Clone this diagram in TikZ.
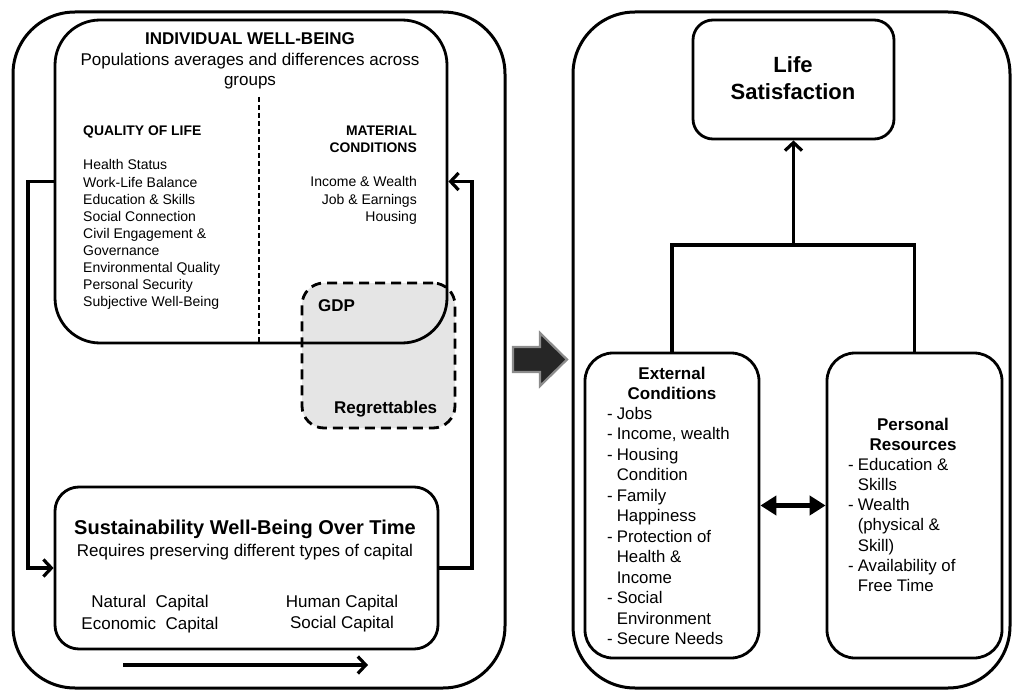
\documentclass[tikz,border=0pt]{standalone}
\usepackage{fontspec}
\setmainfont{Liberation Sans}
\usetikzlibrary{arrows.meta, positioning}

\tikzset{
  panel/.style={draw, line width=3pt, rounded corners=62pt},
  box/.style={draw, line width=2.8pt, inner sep=0pt},
  gdpbox/.style={box, fill=black!10, dash pattern=on 10pt off 6pt, rounded corners=22pt},
  txt/.style={inner sep=0pt, anchor=base},
  flow/.style={-{Straight Barb[length=8pt, width=17pt]}, line width=3.2pt},
  twoway/.style={{Triangle[length=16pt, width=19pt]}-{Triangle[length=16pt, width=19pt]}, line width=4.5pt},
  divider/.style={line width=2.2pt, dash pattern=on 5pt off 3pt},
}

\begin{document}
\begin{tikzpicture}[x=1pt, y=-1pt]
\useasboundingbox (0,0) rectangle (1013,690);

% outer panels
\draw[panel] (13,12) rectangle (505,688);
\draw[panel] (573,12) rectangle (1010,688);

% left panel boxes
\node[gdpbox, minimum width=153pt, minimum height=145pt] (gdp) at (378.5,355.5) {};
\node[box, rounded corners=45pt, minimum width=392pt, minimum height=323pt] (iwb) at (251,181.5) {};
\node[box, rounded corners=24pt, minimum width=383pt, minimum height=162pt] (swb) at (246.5,568) {};

\node[txt, font=\bfseries\fontsize{17}{20}\selectfont] (iwbtitle) at (250,45) {INDIVIDUAL WELL-BEING};
\node[txt, font=\fontsize{17}{19.5}\selectfont] (iwbsub) at (250,66)
  {\begin{tabular}[t]{@{}c@{}}Populations averages and differences across\\groups\end{tabular}};

\coordinate (divtop) at (259,97);
\draw[divider] (divtop) -- (divtop |- iwb.south);

\node[txt, anchor=base west, font=\bfseries\fontsize{13.9}{15}\selectfont] (qoltitle) at (83,136) {QUALITY OF LIFE};
\node[txt, anchor=base west, font=\fontsize{14}{17.1}\selectfont] (qol) at (83,170)
  {\begin{tabular}[t]{@{}l@{}}Health Status\\Work-Life Balance\\Education \& Skills\\Social Connection\\
   Civil Engagement \&\\Governance\\Environmental Quality\\Personal Security\\Subjective Well-Being\end{tabular}};

\node[txt, anchor=base east, font=\bfseries\fontsize{13.9}{17}\selectfont] (mattitle) at (417,136)
  {\begin{tabular}[t]{@{}r@{}}MATERIAL\\CONDITIONS\end{tabular}};
\node[txt, anchor=base east, font=\fontsize{14}{17.1}\selectfont] (mat) at (417,187)
  {\begin{tabular}[t]{@{}r@{}}Income \& Wealth\\Job \& Earnings\\Housing\end{tabular}};

\node[txt, anchor=base west, font=\bfseries\fontsize{17}{18}\selectfont] (gdplabel) at (318,311) {GDP};
\node[txt, anchor=base west, font=\bfseries\fontsize{17}{18}\selectfont] (regret) at (334,413) {Regrettables};

\node[txt, font=\bfseries\fontsize{20}{22}\selectfont] (swbtitle) at (245,534) {Sustainability Well-Being Over Time};
\node[txt, font=\fontsize{17}{19}\selectfont] (swbsub) at (245,556) {Requires preserving different types of capital};
\node[txt, font=\fontsize{17}{22}\selectfont] (capleft) at (150,607)
  {\begin{tabular}[t]{@{}c@{}}Natural\ \ Capital\\Economic\ \ Capital\end{tabular}};
\node[txt, font=\fontsize{17}{21}\selectfont] (capright) at (342,607)
  {\begin{tabular}[t]{@{}c@{}}Human\ Capital\\Social Capital\end{tabular}};

% feedback loops
\draw[flow] (iwb.west) -- ++(-25.6,0) |- (swb.west);
\draw[flow] (swb.east) -- ++(32.6,0) |- (iwb.east);

% time arrow
\coordinate (tstart) at (123,665);
\coordinate (tend) at (368,665);
\draw[flow] (tstart) -- (tend);

% block arrow between panels
\fill[draw=black!45, fill=black!85, line width=2.2pt]
  (513,347) -- (540,347) -- (540,333) -- (567,359.5) -- (540,386) -- (540,372) -- (513,372) -- cycle;

% right panel boxes
\node[box, rounded corners=20pt, minimum width=201pt, minimum height=119pt] (ls) at (793.5,79.5) {};
\node[box, rounded corners=28pt, minimum width=174pt, minimum height=305pt] (ext) at (672,505.5) {};
\node[box, rounded corners=28pt, minimum width=175pt, minimum height=305pt] (pers) at (914.5,505.5) {};

\node[txt, font=\bfseries\fontsize{22}{27}\selectfont] (lstext) at (793,73)
  {\begin{tabular}[t]{@{}c@{}}Life\\Satisfaction\end{tabular}};

\node[txt, font=\bfseries\fontsize{17}{20}\selectfont] (exttitle) at (672,379)
  {\begin{tabular}[t]{@{}c@{}}External\\Conditions\end{tabular}};
\node[txt, anchor=base west, font=\fontsize{16.8}{20.5}\selectfont] (extlist) at (607,419)
  {\begin{tabular}[t]{@{}l@{\hspace{4pt}}l@{}}
   - & Jobs\\ - & Income,\ wealth\\ - & Housing\\ & Condition\\ - & Family\\ & Happiness\\
   - & Protection of\\ & Health \&\\ & Income\\ - & Social\\ & Environment\\ - & Secure Needs\end{tabular}};

\node[txt, font=\bfseries\fontsize{17}{20}\selectfont] (perstitle) at (913,430)
  {\begin{tabular}[t]{@{}c@{}}Personal\\Resources\end{tabular}};
\node[txt, anchor=base west, font=\fontsize{16.8}{20.3}\selectfont] (perslist) at (848,470)
  {\begin{tabular}[t]{@{}l@{\hspace{4pt}}l@{}}
   - & Education \&\\ & Skills\\ - & Wealth\\ & (physical \&\\ & Skill)\\ - & Availability of\\ & Free Time\end{tabular}};

% connectors
\coordinate (fork) at (ls.south |- 0,245);
\draw[line width=3.2pt] (ext.north) |- (fork) -| (pers.north);
\draw[flow] (fork) -- (ls.south);
\draw[twoway] (ext.east) -- (pers.west);
\end{tikzpicture}
\end{document}
